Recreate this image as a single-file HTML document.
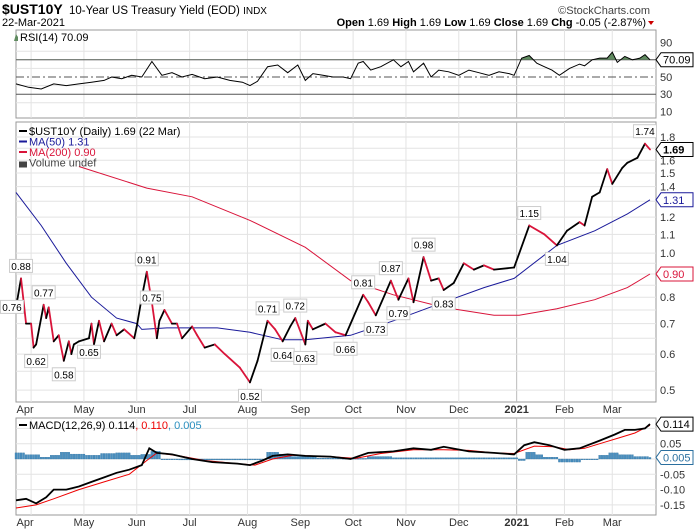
<!DOCTYPE html>
<html><head><meta charset="utf-8"><style>
body{margin:0;background:#fff;font-family:"Liberation Sans",sans-serif}
svg{display:block}
text{font-family:"Liberation Sans",sans-serif}
</style></head><body>
<svg id="c" width="700" height="530" viewBox="0 0 700 530">
<g>
<text x="2" y="14" font-size="14" font-weight="bold">$UST10Y</text>
<text x="69" y="14" font-size="11.5">10-Year US Treasury Yield (EOD) <tspan font-size="10">INDX</tspan></text>
<text x="650" y="14" font-size="11" fill="#444" text-anchor="end">©StockCharts.com</text>
<text x="2" y="26" font-size="11">22-Mar-2021</text>
<text x="646" y="26" font-size="11" text-anchor="end"><tspan font-weight="bold">Open</tspan> 1.69 <tspan font-weight="bold">High</tspan> 1.69 <tspan font-weight="bold">Low</tspan> 1.69 <tspan font-weight="bold">Close</tspan> 1.69 <tspan font-weight="bold">Chg</tspan> -0.05 (-2.87%)</text>
<path d="M648,21 l6,0 l-3,4z" fill="#c00"/>
</g>
<g id="rsi"></g>
<g id="main"></g>
<g id="macd"></g>
</svg>
<script>
// ---- data ----
const monthLabels=["Apr","May","Jun","Jul","Aug","Sep","Oct","Nov","Dec","2021","Feb","Mar"];
const monthDays=[6,27,48,69,92,113,134,155,176,199,218,237];
const priceDays=[0,2,4,6,7,8,11,12,13,15,17,19,21,22,23,25,29,30,31,33,35,38,40,43,47,48,50,52,54,56,57,59,62,64,66,70,72,75,79,83,89,93,96,100,103,106,109,111,115,116,118,123,127,131,133,138,140,143,149,152,156,158,162,165,168,170,174,178,182,186,190,198,204,210,215,219,224,226,229,232,235,237,241,243,247,250,252];
const priceVals=[0.76,0.88,0.70,0.70,0.62,0.63,0.77,0.72,0.76,0.64,0.66,0.58,0.64,0.60,0.63,0.64,0.65,0.70,0.63,0.71,0.64,0.70,0.66,0.68,0.65,0.69,0.80,0.91,0.78,0.65,0.71,0.75,0.70,0.70,0.65,0.69,0.66,0.62,0.63,0.60,0.56,0.52,0.58,0.71,0.68,0.64,0.69,0.72,0.63,0.71,0.68,0.70,0.67,0.66,0.70,0.81,0.78,0.73,0.87,0.79,0.88,0.78,0.98,0.87,0.88,0.83,0.86,0.95,0.92,0.94,0.92,0.93,1.15,1.10,1.04,1.12,1.17,1.15,1.33,1.36,1.53,1.42,1.54,1.58,1.62,1.74,1.69];
const ma50Days=[0,10,20,30,40,48,50,60,70,80,93,106,115,133,150,170,186,198,215,230,243,252];
const ma50Vals=[1.36,1.15,0.95,0.80,0.72,0.70,0.68,0.685,0.685,0.685,0.67,0.645,0.645,0.66,0.71,0.78,0.84,0.88,1.04,1.12,1.22,1.31];
const ma200Days=[25,52,70,93,115,133,150,170,190,200,215,230,243,252];
const ma200Vals=[1.55,1.39,1.33,1.18,1.03,0.87,0.81,0.76,0.73,0.73,0.755,0.79,0.84,0.90];
const annDays=[2,0,8,11,19,29,52,54,93,100,106,111,115,131,138,143,149,152,162,170,204,215,250];
const annVals=[0.88,0.76,0.62,0.77,0.58,0.65,0.91,0.75,0.52,0.71,0.64,0.72,0.63,0.66,0.81,0.73,0.87,0.79,0.98,0.83,1.15,1.04,1.74];
const annAbove=[1,2,0,1,0,0,1,1,0,1,0,1,0,0,1,0,1,0,1,0,1,0,1];
const yTicks=[0.5,0.6,0.7,0.8,1.0,1.1,1.2,1.4,1.5,1.6,1.8];
const yGrid=[0.5,0.55,0.6,0.65,0.7,0.75,0.8,0.85,0.9,0.95,1.0,1.1,1.2,1.3,1.4,1.5,1.6,1.7,1.8];
const rsiDays=[0,5,10,15,20,25,30,35,38,42,46,50,54,58,62,66,70,75,80,85,90,93,96,100,104,108,112,115,118,122,126,130,133,136,138,141,145,150,153,156,158,162,165,168,172,176,180,184,188,192,196,198,201,204,207,210,213,216,220,224,226,229,232,235,237,239,242,245,248,250,252];
const rsiVals=[42,38,36,42,40,42,44,46,50,48,52,50,68,52,55,50,53,48,50,46,44,40,45,62,64,55,64,46,54,52,50,50,48,66,68,58,62,70,62,68,56,66,50,58,56,52,58,55,52,56,54,52,72,75,66,62,58,52,60,65,63,70,72,72,79,67,74,70,72,76,70];
const rsiTicks=[90,50,30,10];
const macdDays=[0,4,8,12,15,20,25,30,35,40,45,50,53,56,62,70,78,88,93,98,102,108,115,125,133,140,150,158,165,170,180,190,198,202,206,212,218,224,232,238,242,246,250,252];
const macdVals=[-0.135,-0.13,-0.145,-0.125,-0.10,-0.10,-0.09,-0.075,-0.06,-0.045,-0.035,-0.02,0.035,0.02,0.015,0.0,-0.01,-0.015,-0.02,-0.005,0.01,0.015,0.01,0.008,0.0,0.02,0.025,0.035,0.03,0.04,0.025,0.02,0.015,0.045,0.055,0.045,0.03,0.035,0.06,0.08,0.095,0.095,0.10,0.114];
const sigDays=[0,8,15,25,35,45,52,56,65,75,88,95,102,110,125,135,145,158,170,180,190,198,206,214,220,226,234,240,246,252];
const sigVals=[-0.16,-0.15,-0.13,-0.10,-0.075,-0.05,-0.005,0.02,0.01,-0.005,-0.015,-0.02,0.0,0.012,0.008,0.002,0.018,0.03,0.03,0.028,0.02,0.018,0.042,0.04,0.03,0.035,0.055,0.07,0.085,0.11];
const histDays=[0,4,10,14,18,22,28,34,40,46,50,54,58,65,100,105,110,120,130,140,150,200,203,207,210,216,225,232,236,240,246,252];
const histVals=[0.02,0.014,0.006,0.012,0.022,0.016,0.012,0.018,0.02,0.012,0.015,0.025,0.0,-0.003,0.022,0.016,0.008,0.003,0.002,0.008,0.004,-0.005,0.022,0.014,0.006,-0.01,-0.002,0.012,0.02,0.014,0.008,0.005];
const macdTicks=[0.05,-0.05,-0.10,-0.15];

// ---- scales ----
const NS="http://www.w3.org/2000/svg";
const L=16,R=656,LASTDAY=252,XR=650;
const x=d=>L+d*(XR-L)/LASTDAY;
const yP=v=>137+(Math.log10(1.8)-Math.log10(v))*455;
const yR=v=>77-(v-50)*0.86;
const yM=v=>459-v*306;
function el(parent,tag,attrs,txt){const e=document.createElementNS(NS,tag);for(const k in attrs)e.setAttribute(k,attrs[k]);if(txt!=null)e.textContent=txt;parent.appendChild(e);return e;}
function line(days,vals,ys){return days.map((d,i)=>(i?"L":"M")+x(d).toFixed(1)+","+ys(vals[i]).toFixed(1)).join("");}

function frame(g,top,bot){
  const r=el(g,"rect",{x:L,y:top,width:R-L,height:bot-top,fill:"none",stroke:"#999"});
  
  
  monthDays.forEach((d,i)=>{
    const l=el(g,"line",{x1:x(d),x2:x(d),y1:top,y2:bot,stroke:i==9?"#bbb":"#e3e3e3"});
    
    
  });
}
function tag(g,y,txt,color,bold){
  const p=el(g,"path",{d:`M${R},${y} l5,-7 h32 v14 h-32z`,fill:"#fff",stroke:color});
  
  
  const t=el(g,"text",{x:R+7,y:y+4,"font-size":11,fill:bold?"#000":color,"font-weight":bold?"bold":"normal"},txt);
  
  
}

// ---- RSI ----
const gR=document.getElementById("rsi");
frame(gR,30,118);
[80,70,60,40,20].forEach(v=>{const l=el(gR,"line",{x1:L,x2:R,y1:yR(v),y2:yR(v),stroke:"#e3e3e3"});});
[70,30].forEach(v=>{const l=el(gR,"line",{x1:L,x2:R,y1:yR(v),y2:yR(v),stroke:"#555"});});
{const l=el(gR,"line",{x1:L,x2:R,y1:yR(50),y2:yR(50),stroke:"#555","stroke-dasharray":"8,3,2,3"});}
{const cp=el(gR,"clipPath",{id:"ob"});el(cp,"rect",{x:L,y:0,width:R-L,height:yR(70)});
 const a=el(gR,"path",{d:line(rsiDays,rsiVals,yR)+`L${x(LASTDAY)},${yR(70)}L${x(0)},${yR(70)}Z`,fill:"#5f8a5f","clip-path":"url(#ob)"});
 }
{const p=el(gR,"path",{d:line(rsiDays,rsiVals,yR),fill:"none",stroke:"#000","stroke-width":1});}
rsiTicks.forEach(v=>{const t=el(gR,"text",{x:R+4,y:yR(v)+4,"font-size":11,fill:"#333"},v);});
tag(gR,yR(70.09),"70.09","#000",false);
{const t=el(gR,"text",{x:20,y:41,"font-size":11},"RSI(14) 70.09");}
{const p=el(gR,"path",{d:"M14,41 l2,-7 l2,3 v4z",fill:"#5f8a5f"});}

// ---- Price ----
const gM=document.getElementById("main");
frame(gM,122,402);
yGrid.forEach(v=>{const l=el(gM,"line",{x1:L,x2:R,y1:yP(v),y2:yP(v),stroke:"#e3e3e3"});});
yTicks.forEach(v=>{const t=el(gM,"text",{x:R+4,y:yP(v)+4,"font-size":11,fill:"#333"},v.toFixed(1));});
{const p=el(gM,"path",{d:line(ma200Days,ma200Vals,yP),fill:"none",stroke:"#d9143a","stroke-width":1});}
{const p=el(gM,"path",{d:line(ma50Days,ma50Vals,yP),fill:"none",stroke:"#1a1a9a","stroke-width":1});}
for(let i=1;i<priceDays.length;i++){
  const up=priceVals[i]>=priceVals[i-1];
  const s=el(gM,"line",{x1:x(priceDays[i-1]),y1:yP(priceVals[i-1]),x2:x(priceDays[i]),y2:yP(priceVals[i]),stroke:up?"#000":"#d9143a","stroke-width":1.8,"stroke-linecap":"round"});
  
  
}
annDays.forEach((d,i)=>{
  const v=annVals[i],px=x(d),py=yP(v),pos=annAbove[i];
  const txt=v.toFixed(2);
  let tx=px,ty=pos==1?py-12:py+14;
  if(pos==2){tx=px-4;ty=py;}
  const g=el(gM,"g",{});
  
  
  el(g,"rect",{x:tx-11.5,y:ty-7,width:23,height:13,fill:"#fff",stroke:"#ccc"});
  el(g,"text",{x:tx,y:ty+3.5,"font-size":10,"text-anchor":"middle"},txt);
});
tag(gM,yP(1.69),"1.69","#000",true);
tag(gM,yP(1.31),"1.31","#1a1a9a",false);
tag(gM,yP(0.90),"0.90","#d9143a",false);
[["$UST10Y (Daily) 1.69 (22 Mar)","#000"],["MA(50) 1.31","#1a1a9a"],["MA(200) 0.90","#d9143a"],["Volume undef","#444"]].forEach((a,i)=>{
  const t=el(gM,"text",{x:29,y:135+i*10.5,"font-size":11,fill:a[1]},a[0]);
  
  
  const m=el(gM,"rect",{x:19,y:130+i*10.5,width:8,height:i==3?6:2,fill:a[1]});
  
  
});
monthLabels.forEach((m,i)=>{
  const t=el(gM,"text",{x:x(monthDays[i])-(i==0?6:0),y:413,"font-size":11,fill:"#333","text-anchor":"middle","font-weight":i==9?"bold":"normal"},m);
  
  
});

// ---- MACD ----
const gC=document.getElementById("macd");
frame(gC,418,515);
[0.05,0,-0.05,-0.10,-0.15,0.10].forEach(v=>{const l=el(gC,"line",{x1:L,x2:R,y1:yM(v),y2:yM(v),stroke:"#e3e3e3"});});
{let j=0;for(let d=0;d<=LASTDAY;d++){while(j+1<histDays.length&&histDays[j+1]<=d)j++;const v=histVals[j];
  const b=el(gC,"rect",{x:x(d)-1,y:Math.min(yM(0),yM(v)),width:2,height:Math.max(0.8,Math.abs(yM(v)-yM(0))),fill:"#4a8fbf",stroke:"#2a6f9f","stroke-width":0.3});
  
  }}
{const p=el(gC,"path",{d:line(sigDays,sigVals,yM),fill:"none",stroke:"#e00","stroke-width":1});}
{const p=el(gC,"path",{d:line(macdDays,macdVals,yM),fill:"none",stroke:"#000","stroke-width":1.8});}
macdTicks.forEach(v=>{const t=el(gC,"text",{x:R+4,y:yM(v)+4,"font-size":11,fill:"#333"},v.toFixed(2));});
tag(gC,yM(0.005),"0.005","#2a6f9f",false);
tag(gC,yM(0.114),"0.114","#000",false);
{const t=el(gC,"text",{x:29,y:429,"font-size":11},"");
 el(t,"tspan",{},"MACD(12,26,9) 0.114");el(t,"tspan",{fill:"#e00"},", 0.110");el(t,"tspan",{fill:"#2a8fbf"},", 0.005");
 const m=el(gC,"rect",{x:19,y:424,width:8,height:2,fill:"#000"});}
monthLabels.forEach((m,i)=>{
  const t=el(gC,"text",{x:x(monthDays[i])-(i==0?6:0),y:526,"font-size":11,fill:"#333","text-anchor":"middle","font-weight":i==9?"bold":"normal"},m);
  
  
});
</script>
</body></html>
